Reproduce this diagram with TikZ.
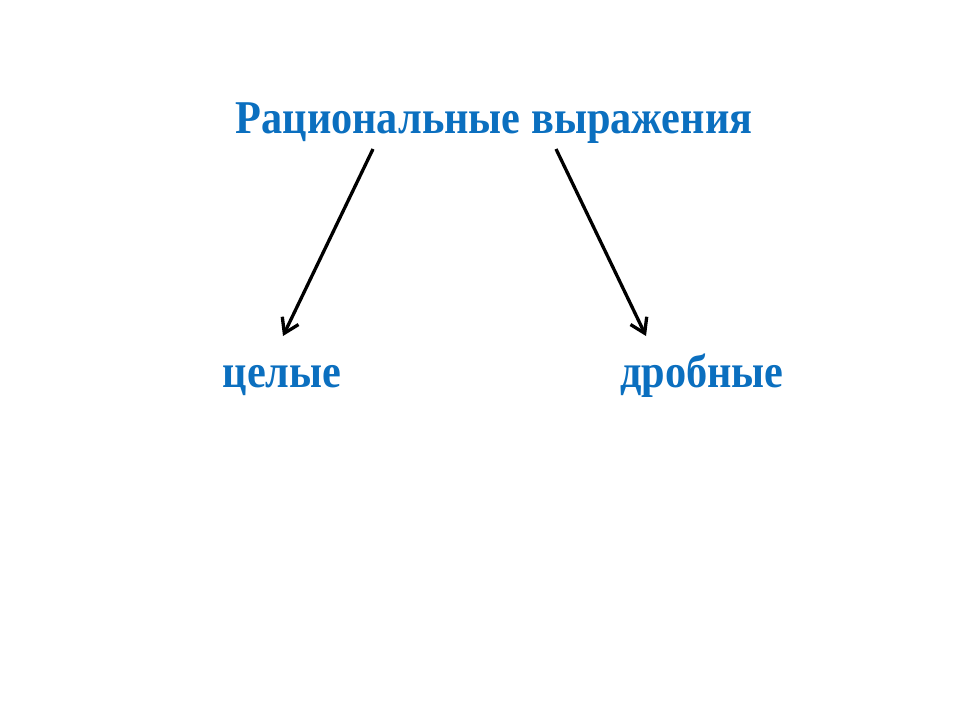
\documentclass[tikz,border=0pt]{standalone}
\usepackage{fontspec}
\setmainfont{Liberation Serif}
\usetikzlibrary{positioning,arrows.meta}
\definecolor{rblue}{HTML}{0B6FBF}

\begin{document}
\begin{tikzpicture}[x=1pt,y=-1pt]
\tikzset{T/.style={text=rblue,font=\bfseries\fontsize{47}{56}\selectfont,inner sep=0pt,anchor=base,xscale=0.9,transform shape}}
\tikzset{A/.style={line width=3.3pt,-{Straight Barb[length=14pt,width=18pt,line width=3.3pt]}}}

  \useasboundingbox (0,0) rectangle (960,720);
  \node[T] (expr) at (494,133) {Рациональные выражения};
  \node[T] (whole) at (282,387) {целые};
  \node[T] (frac) at (702,387) {дробные};

  \coordinate (l1) at (373,149);
  \coordinate (l2) at (283,336);
  \coordinate (r1) at (556,149);
  \coordinate (r2) at (646,336);

  \draw[A] (l1) -- (l2);
  \draw[A] (r1) -- (r2);
\end{tikzpicture}
\end{document}
